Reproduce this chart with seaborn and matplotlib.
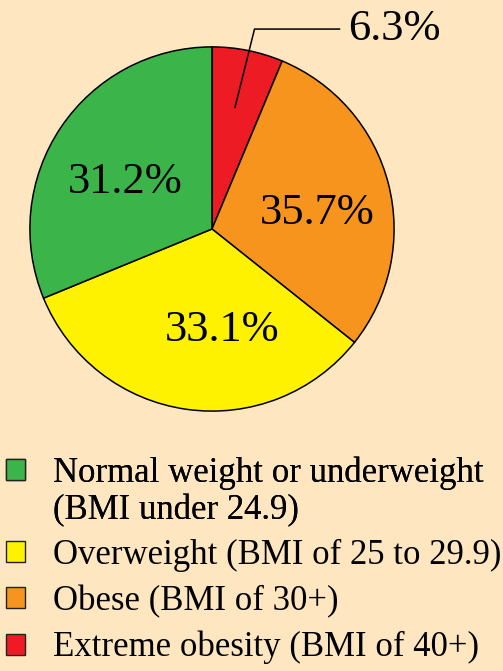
import matplotlib
matplotlib.use("Agg")
import matplotlib.pyplot as plt
from matplotlib.patches import Patch
import seaborn as sns

# values (wedge shares; obese wedge excludes the extreme-obesity part)
categories = ["Extreme obesity", "Obese", "Overweight", "Normal"]
wedge_sizes = [6.3, 29.4, 33.1, 31.2]
pct_labels = ["6.3%", "35.7%", "33.1%", "31.2%"]
colors = ["#ED1C24", "#F7941D", "#FFF200", "#3BB54A"]

legend_labels = [
    "Normal weight or underweight",
    "(BMI under 24.9)",
    "Overweight (BMI of 25 to 29.9)",
    "Obese (BMI of 30+)",
    "Extreme obesity (BMI of 40+)",
]
legend_colors = ["#3BB54A", None, "#FFF200", "#F7941D", "#ED1C24"]

bg = "#FEE6C1"
sns.set_style("white")
plt.rcParams["font.family"] = ["Liberation Serif", "DejaVu Serif"]
plt.rcParams["text.color"] = "black"

fig = plt.figure(figsize=(5.03, 6.71), dpi=100, facecolor=bg)
ax = fig.add_axes([29 / 503, 1 - 412 / 671, 366 / 503, 366 / 671])
ax.set_facecolor(bg)

ax.pie(
    wedge_sizes,
    colors=colors,
    startangle=90,
    counterclock=False,
    radius=1,
    wedgeprops=dict(edgecolor="black", linewidth=1.1),
)
ax.set_xlim(-1.005, 1.005)
ax.set_ylim(-1.005, 1.005)
ax.set_aspect("equal")
ax.axis("off")

# percentage labels
label_pos = {"31.2%": (-0.475, 0.26), "35.7%": (0.579, 0.09), "33.1%": (0.055, -0.555)}
for lab, (x, y) in label_pos.items():
    ax.text(x, y, lab, ha="center", va="center", fontsize=32, color="black")

ax.annotate(
    pct_labels[0],
    xy=(0.126, 0.667),
    xytext=(0.75, 1.098),
    ha="left",
    va="center",
    fontsize=32,
    color="black",
    arrowprops=dict(arrowstyle="-", color="black", lw=1.1,
                    connectionstyle="angle,angleA=0,angleB=76,rad=0",
                    shrinkA=4, shrinkB=0),
    annotation_clip=False,
)

handles = []
for c in legend_colors:
    if c is None:
        handles.append(Patch(facecolor="none", edgecolor="none"))
    else:
        handles.append(Patch(facecolor=c, edgecolor="#222222", linewidth=1))

legend_kw = dict(
    loc="upper left",
    frameon=False,
    fontsize=25,
    labelcolor="black",
    handlelength=0.55,
    handleheight=0.55,
    handletextpad=0.8,
    borderpad=0,
    borderaxespad=0,
)

# wrapped first entry sits tighter than the rest
leg1 = fig.legend(handles[:2], legend_labels[:2],
                  bbox_to_anchor=(6 / 503, 1 - 456 / 671),
                  labelspacing=0.14, **legend_kw)
fig.add_artist(leg1)
fig.legend(handles[2:], legend_labels[2:],
           bbox_to_anchor=(6 / 503, 1 - 539 / 671),
           labelspacing=0.37, **legend_kw)

fig.savefig("out.png", dpi=100, facecolor=bg)
